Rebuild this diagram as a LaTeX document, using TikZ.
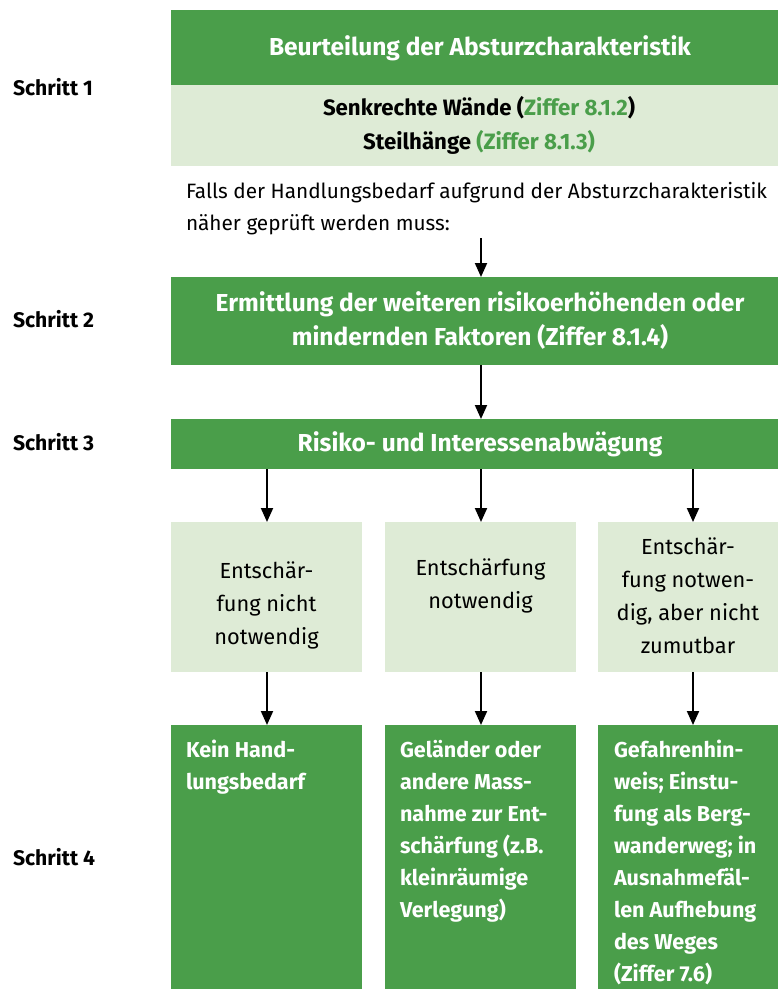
\documentclass[tikz,border=0pt]{standalone}
\usepackage{fontspec}
\setmainfont{Fira Sans}
\usetikzlibrary{arrows.meta}
\definecolor{dg}{RGB}{74,158,74}
\definecolor{lg}{RGB}{222,235,214}
\newlength\calw
\newcommand\calib[3]{\settowidth\calw{\fontsize{10}{12}\selectfont #3}\pgfmathsetmacro#1{10*#2/\calw}}
\newcommand\fl{\rule{0pt}{20pt}}
\begin{document}
\calib\szBody{581}{Falls der Handlungsbedarf aufgrund der Absturzcharakteristik}%
\calib\szEnt{130}{Entschärfung}%
\calib\szHead{422}{\bfseries Beurteilung der Absturzcharakteristik}%
\calib\szSub{312}{\bfseries Senkrechte Wände (Ziffer 8.1.2)}%
\calib\szBot{141}{\bfseries Geländer oder}%
\calib\szStep{80}{\bfseries Schritt 1}%
\begin{tikzpicture}[x=1pt,y=-1pt,
  fbox/.style={anchor=north west, inner sep=0pt, outer sep=0pt, draw=none},
  dbox/.style={fbox, fill=dg},
  lbox/.style={fbox, fill=lg},
  bodytxt/.style={inner sep=0pt, outer sep=0pt, font=\fontsize{\szBody}{32}\selectfont},
  enttxt/.style={inner sep=0pt, outer sep=0pt, anchor=north, align=center, font=\fontsize{\szEnt}{33}\selectfont},
  headtxt/.style={inner sep=0pt, outer sep=0pt, text=white, font=\bfseries\fontsize{\szHead}{34}\selectfont},
  subtxt/.style={inner sep=0pt, outer sep=0pt, anchor=base, font=\bfseries\fontsize{\szSub}{34}\selectfont},
  bottxt/.style={inner sep=0pt, outer sep=0pt, text=white, anchor=north west, align=left, font=\bfseries\fontsize{\szBot}{32}\selectfont},
  steptxt/.style={inner sep=0pt, outer sep=0pt, anchor=base west, font=\bfseries\fontsize{\szStep}{24}\selectfont},
  arr/.style={line width=2pt, -{Triangle[length=14pt,width=12pt]}},
]
\useasboundingbox (0,0) rectangle (778,989);
% boxes
\node[dbox, minimum width=607pt, minimum height=75pt] (b1) at (171,10) {};
\node[lbox, minimum width=607pt, minimum height=81pt] (b1l) at (171,85) {};
\node[dbox, minimum width=607pt, minimum height=88pt] (b2) at (171,277) {};
\node[dbox, minimum width=607pt, minimum height=50pt] (b3) at (171,419) {};
\node[lbox, minimum width=191pt, minimum height=150pt] (l1) at (171,522) {};
\node[lbox, minimum width=191pt, minimum height=150pt] (l2) at (385,522) {};
\node[lbox, minimum width=180pt, minimum height=150pt] (l3) at (598,522) {};
\node[dbox, minimum width=191pt, minimum height=264pt] (d1) at (171,725) {};
\node[dbox, minimum width=191pt, minimum height=264pt] (d2) at (385,725) {};
\node[dbox, minimum width=180pt, minimum height=264pt] (d3) at (598,725) {};
% step labels
\node[steptxt] (s1) at (13,95) {Schritt 1};
\node[steptxt] (s2) at (13,327) {Schritt 2};
\node[steptxt] (s3) at (13,450) {Schritt 3};
\node[steptxt] (s4) at (13,865) {Schritt 4};
% texts
\node[headtxt, anchor=base] (t1) at (480,55) {Beurteilung der Absturzcharakteristik};
\node[subtxt] (t1a) at (479,115) {Senkrechte Wände (\textcolor{dg}{Ziffer 8.1.2})};
\node[subtxt] (t1b) at (479,149) {Steilhänge \textcolor{dg}{(Ziffer 8.1.3)}};
\node[bodytxt, anchor=north west, align=left] (f) at (186,198-20) {\fl Falls der Handlungsbedarf aufgrund der Absturzcharakteristik\\näher geprüft werden muss:};
\coordinate (fa) at (481,238);
\node[headtxt, anchor=north, align=center] (t2) at (480,311-20) {\fl Ermittlung der weiteren risikoerhöhenden oder\\mindernden Faktoren (Ziffer 8.1.4)};
\node[headtxt, anchor=base] (t3) at (480,451) {Risiko- und Interessenabwägung};
\node[enttxt] (e1) at (266.5,578-20) {\fl Entschär-\\fung nicht\\notwendig};
\node[enttxt] (e2) at (480.5,575-20) {\fl Entschärfung\\notwendig};
\node[enttxt] (e3) at (688,554-20) {\fl Entschär-\\fung notwen-\\dig, aber nicht\\zumutbar};
\node[bottxt] (k1) at (186,757-20) {\fl Kein Hand-\\lungsbedarf};
\node[bottxt] (k2) at (400,757-20) {\fl Geländer oder\\andere Mass-\\nahme zur Ent-\\schärfung (z.B.\\kleinräumige\\Verlegung)};
\node[bottxt] (k3) at (614,757-20) {\fl Gefahrenhin-\\weis; Einstu-\\fung als Berg-\\wanderweg; in\\Ausnahmefäl-\\len Aufhebung\\des Weges\\(Ziffer 7.6)};
% arrows
\draw[arr] (fa) -- (fa |- b2.north);
\draw[arr] (fa |- b2.south) -- (fa |- b3.north);
\draw[arr] (b3.south -| 267,0) -- (l1.north -| 267,0);
\draw[arr] (b3.south -| 481,0) -- (l2.north -| 481,0);
\draw[arr] (b3.south -| 693,0) -- (l3.north -| 693,0);
\draw[arr] (l1.south -| 267,0) -- (d1.north -| 267,0);
\draw[arr] (l2.south -| 481,0) -- (d2.north -| 481,0);
\draw[arr] (l3.south -| 693,0) -- (d3.north -| 693,0);
\end{tikzpicture}
\end{document}
